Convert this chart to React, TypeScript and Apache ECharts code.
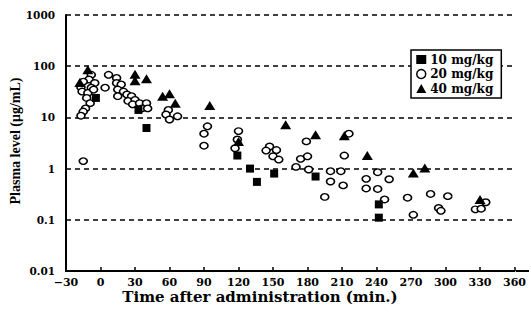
import React, { useEffect, useRef } from "react";
import * as echarts from "echarts";

const xTicks = [-30, 0, 30, 60, 90, 120, 150, 180, 210, 240, 270, 300, 330, 360];
const yTicks = [0.01, 0.1, 1, 10, 100, 1000];
const seriesNames = ["10 mg/kg", "20 mg/kg", "40 mg/kg"];

const dose10: [number, number][] = [
  [-4, 24], [33, 14], [40, 6.2], [119, 1.8], [130, 1.0], [136, 0.55],
  [151, 0.8], [187, 0.7], [242, 0.2], [242, 0.11],
];

const dose20: [number, number][] = [
  [-8, 68], [-10, 55], [-15, 50], [-5, 47], [-17, 39], [-8, 38], [-16, 32], [-11, 30],
  [-6, 35], [-12, 24], [-9, 19], [-13, 15], [-15, 13], [-17, 10.8], [-15, 1.4],
  [7, 68], [4, 38], [14, 59], [14, 47], [18, 44], [15, 35], [20, 32], [15, 26],
  [23, 28], [27, 26], [24, 21], [30, 22], [28, 18], [34, 19], [36, 15], [40, 19], [41, 15],
  [59, 14], [57, 11.4], [60, 9.1], [67, 10.5],
  [93, 6.7], [90, 4.8], [90, 2.8],
  [120, 5.4], [119, 3.7], [117, 2.5],
  [147, 2.7], [144, 2.25], [153, 2.3], [150, 1.74], [155, 1.5],
  [179, 3.4], [174, 1.55], [170, 1.08], [180, 1.74], [181, 0.96],
  [216, 4.8], [212, 1.8], [200, 0.89], [209, 0.89], [200, 0.56], [211, 0.47], [195, 0.28],
  [231, 0.63], [241, 0.85], [251, 0.62], [231, 0.41], [241, 0.4], [247, 0.25],
  [267, 0.27], [272, 0.125], [287, 0.32], [302, 0.29], [294, 0.17], [296, 0.15],
  [326, 0.16], [331, 0.165], [335, 0.22],
];

const dose40: [number, number][] = [
  [-11, 85], [-18, 48], [30, 70], [30, 52], [40, 57], [54, 26], [60, 29], [65, 19],
  [95, 17], [120, 3.4], [161, 7.2], [187, 4.6], [212, 4.4], [232, 1.8],
  [272, 0.82], [282, 1.03], [330, 0.25],
];

const GRID = { left: 66, top: 15, right: 13, bottom: 42 };

export default function App() {
  const ref = useRef<HTMLDivElement>(null);
  useEffect(() => {
    if (!ref.current) return;
    const chart = echarts.init(ref.current, null, { renderer: "svg" });
    const tickFont = "DejaVu Serif";
    chart.setOption({
      animation: false,
      backgroundColor: "#ffffff",
      grid: GRID,
      legend: {
        left: 411,
        top: 50,
        orient: "vertical",
        backgroundColor: "#ffffff",
        borderColor: "#000",
        borderWidth: 1.5,
        borderRadius: 0,
        padding: [3, 8, 3, 5],
        itemGap: 1.5,
        itemWidth: 10,
        itemHeight: 9,
        textStyle: {
          fontFamily: tickFont,
          fontWeight: "bold",
          fontSize: 12,
          lineHeight: 13,
          color: "#000",
          padding: [0, 0, 0, -1],
        },
        data: [
          { name: seriesNames[0], icon: "rect", itemStyle: { color: "#000" } },
          { name: seriesNames[1], icon: "circle", itemStyle: { color: "#fff", borderColor: "#000", borderWidth: 1.5 } },
          { name: seriesNames[2], icon: "triangle", itemStyle: { color: "#000" } },
        ],
      },
      xAxis: {
        type: "value",
        min: xTicks[0],
        max: xTicks[xTicks.length - 1],
        interval: 30,
        axisLine: { show: true, onZero: false, lineStyle: { color: "#000", width: 2 } },
        axisTick: { show: true, inside: true, length: 4, lineStyle: { color: "#000", width: 1.5 } },
        axisLabel: {
          color: "#000",
          fontFamily: tickFont,
          fontWeight: "bold",
          fontSize: 11,
          margin: 6,
          formatter: (v: number) => (v < 0 ? "\u2212" + Math.abs(v) : String(v)),
        },
        splitLine: { show: false },
      },
      yAxis: {
        type: "log",
        logBase: 10,
        min: yTicks[0],
        max: yTicks[yTicks.length - 1],
        axisLine: { show: true, onZero: false, lineStyle: { color: "#000", width: 2 } },
        axisTick: { show: false },
        axisLabel: {
          color: "#000",
          fontFamily: tickFont,
          fontWeight: "bold",
          fontSize: 10.5,
          margin: 11,
          formatter: (v: number) => {
            const r = yTicks.find((t) => Math.abs(t - v) / t < 1e-6);
            return r !== undefined ? String(r) : "";
          },
        },
        splitLine: { show: true, lineStyle: { color: "#000", type: [5, 4], width: 1.5 } },
      },
      series: [
        {
          name: seriesNames[1],
          type: "scatter",
          data: dose20,
          symbol: "circle",
          symbolSize: [8, 6.5],
          itemStyle: { color: "#fff", borderColor: "#000", borderWidth: 1.5, opacity: 1 },
          z: 2,
        },
        {
          name: seriesNames[0],
          type: "scatter",
          data: dose10,
          symbol: "rect",
          symbolSize: 8,
          itemStyle: { color: "#000", opacity: 1 },
          z: 3,
        },
        {
          name: seriesNames[2],
          type: "scatter",
          data: dose40,
          symbol: "triangle",
          symbolSize: [11, 9],
          itemStyle: { color: "#000", opacity: 1 },
          z: 4,
        },
      ],
      graphic: [
        {
          type: "line",
          shape: { x1: 516, y1: 271, x2: 529, y2: 271 },
          style: { stroke: "#000", lineWidth: 2 },
        },
        {
          type: "text",
          x: 260,
          y: 297,
          style: {
            text: "Time after administration (min.)",
            font: "bold 15px 'DejaVu Serif'",
            fill: "#000",
            textAlign: "center",
            textVerticalAlign: "middle",
          },
        },
        {
          type: "text",
          x: 15,
          y: 141,
          rotation: Math.PI / 2,
          style: {
            text: "Plasma level (\u03bcg/mL)",
            font: "bold 14px 'Liberation Serif'",
            fill: "#000",
            textAlign: "center",
            textVerticalAlign: "middle",
          },
        },
      ],
    });
    return () => chart.dispose();
  }, []);
  return <div ref={ref} style={{ width: 529, height: 313, position: "fixed", left: 0, top: 0 }} />;
}
